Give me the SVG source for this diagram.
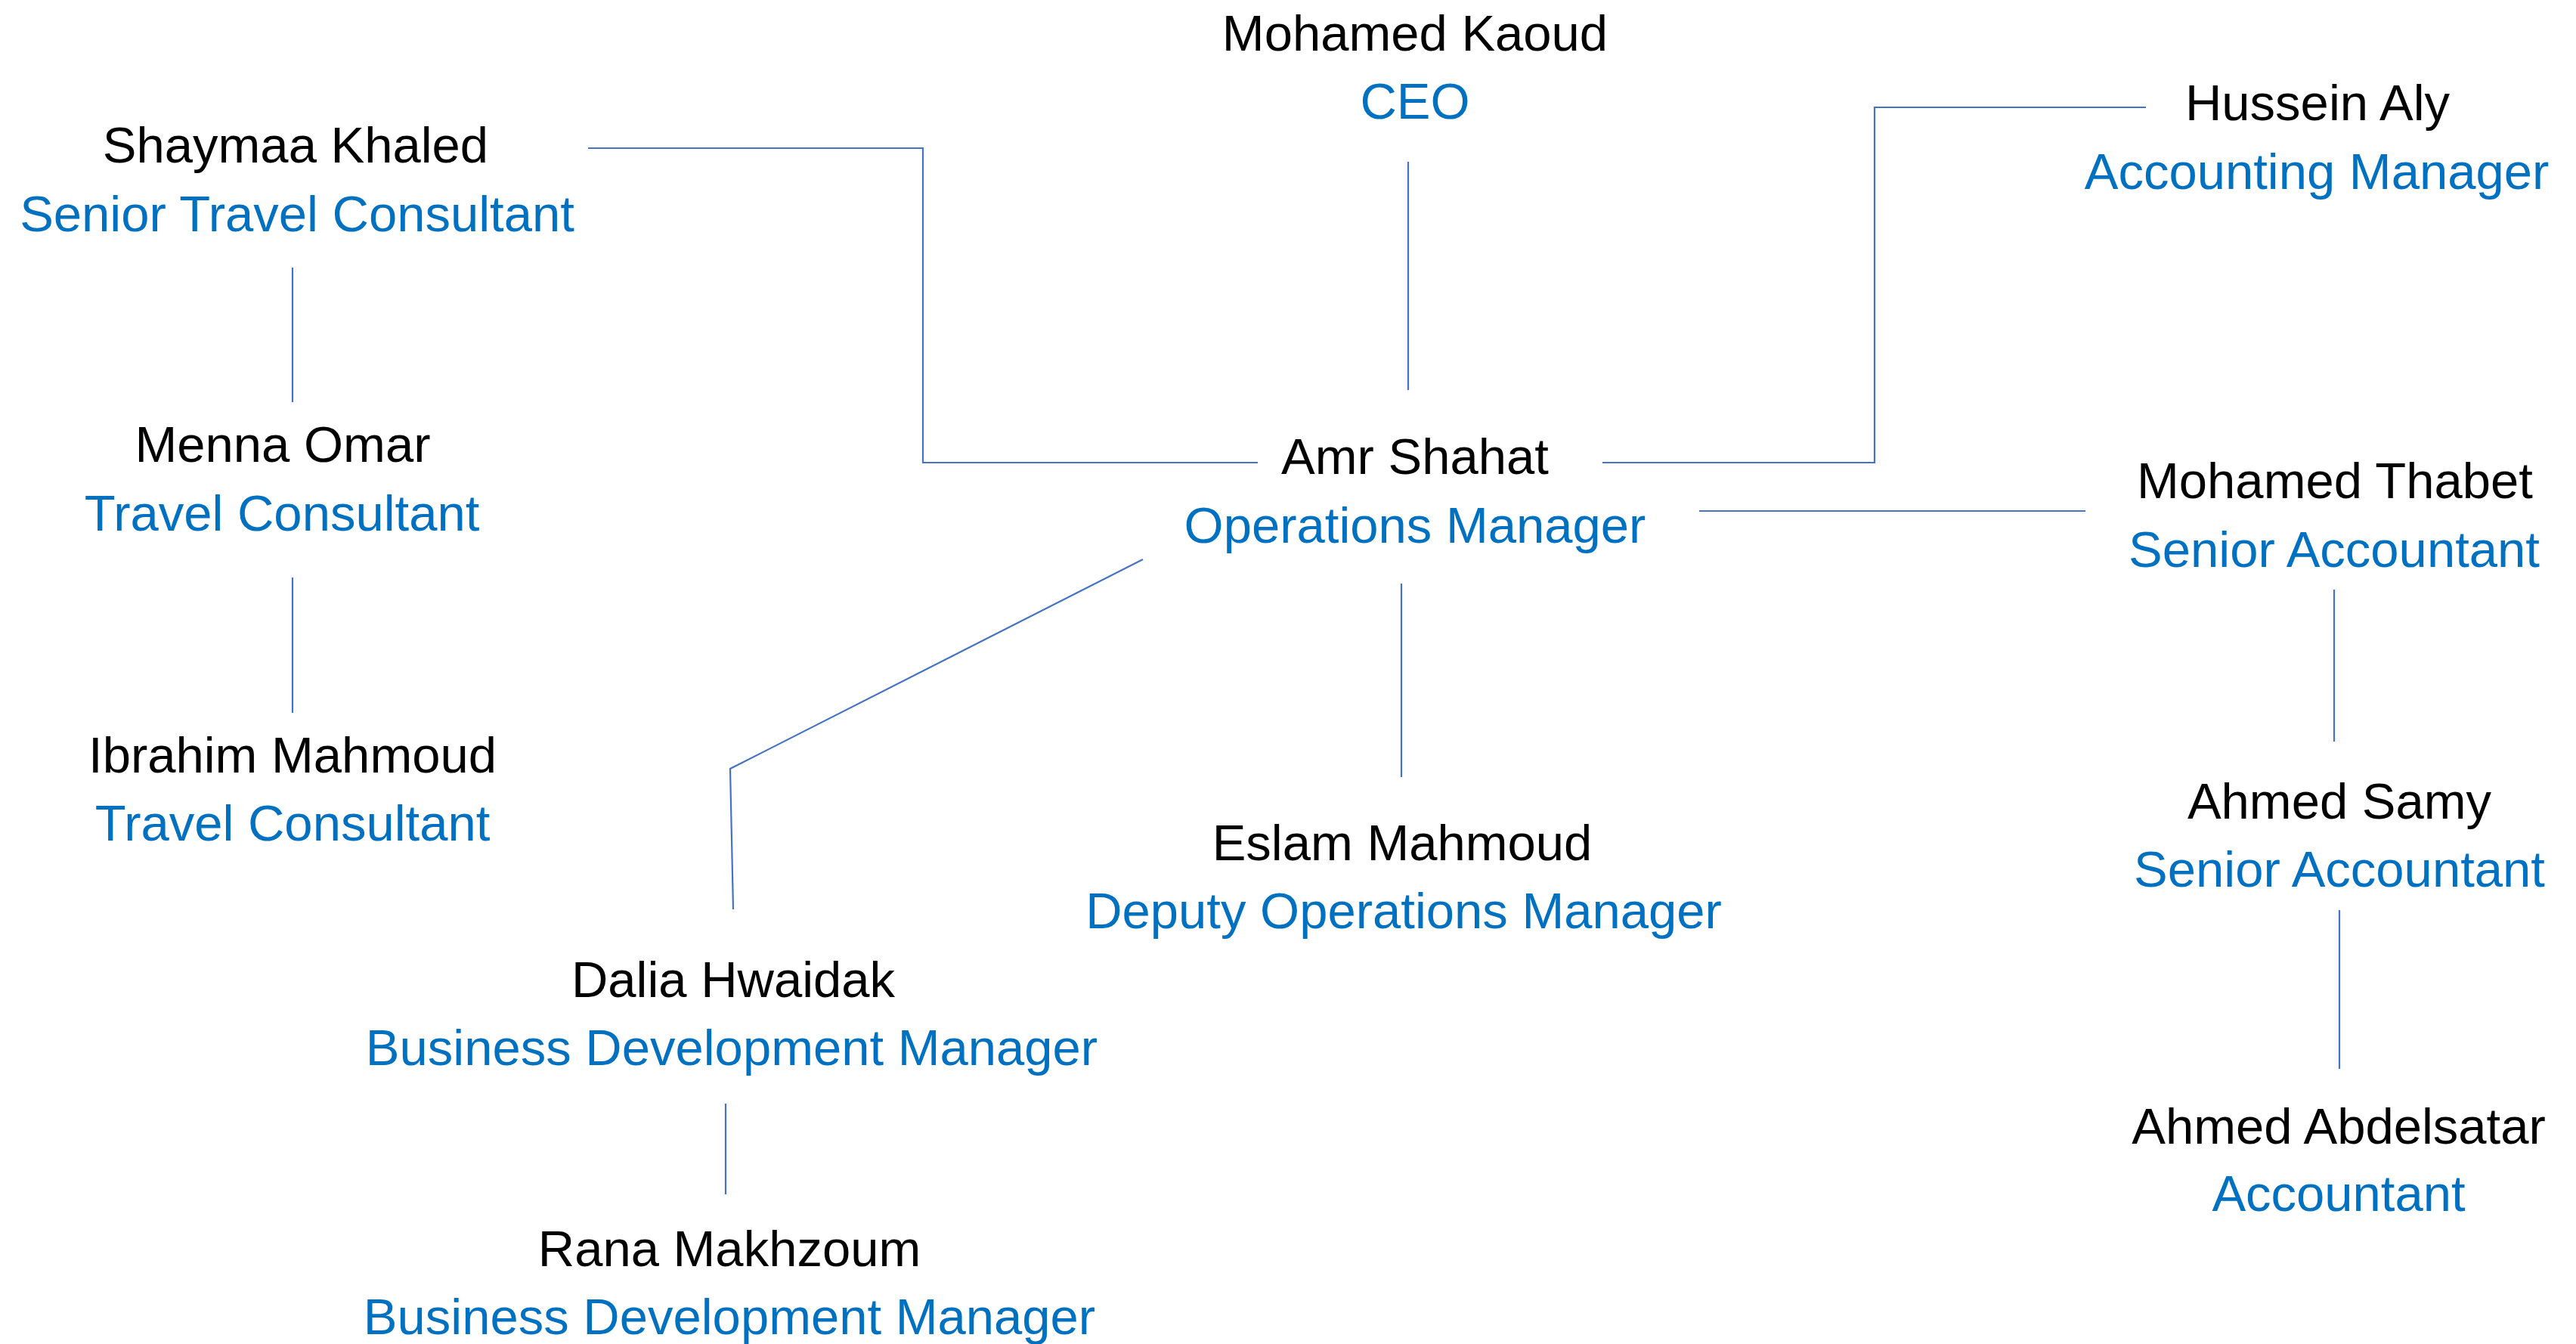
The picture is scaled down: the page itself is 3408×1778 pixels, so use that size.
<svg xmlns="http://www.w3.org/2000/svg" width="3408" height="1778" viewBox="0 0 3408 1778">
<style>
text{font-family:"Liberation Sans",Arial,sans-serif;font-size:67px;text-anchor:middle}
.n{fill:#000000}
.t{fill:#0070C0}
.c{fill:none;stroke:#4472C4;stroke-width:2.2}
</style>
<rect width="3408" height="1778" fill="#ffffff"/>
<g id="connectors">
<path class="c" d="M1863,214 V516"/>
<path class="c" d="M778,196 H1221 V612 H1664"/>
<path class="c" d="M2120,612 H2480 V142 H2839"/>
<path class="c" d="M2248,676 H2759"/>
<path class="c" d="M3088,780 V981"/>
<path class="c" d="M3095,1204 V1414"/>
<path class="c" d="M387,354 V532"/>
<path class="c" d="M387,764 V943"/>
<path class="c" d="M1512,740 L966,1017 L970,1203"/>
<path class="c" d="M960,1460 V1580"/>
<path class="c" d="M1854,772 V1028"/>
</g>
<g id="ceo"><text class="n" x="1872" y="67">Mohamed Kaoud</text><text class="t" x="1872" y="157">CEO</text></g>
<g id="ops"><text class="n" x="1872" y="627">Amr Shahat</text><text class="t" x="1872" y="718">Operations Manager</text></g>
<g id="hussein"><text class="n" x="3066" y="159">Hussein Aly</text><text class="t" x="3065" y="250">Accounting Manager</text></g>
<g id="thabet"><text class="n" x="3089" y="659">Mohamed Thabet</text><text class="t" x="3088" y="750">Senior Accountant</text></g>
<g id="samy"><text class="n" x="3095" y="1083">Ahmed Samy</text><text class="t" x="3095" y="1173">Senior Accountant</text></g>
<g id="abdelsatar"><text class="n" x="3094" y="1513">Ahmed Abdelsatar</text><text class="t" x="3094" y="1602">Accountant</text></g>
<g id="shaymaa"><text class="n" x="391" y="215">Shaymaa Khaled</text><text class="t" x="393" y="306">Senior Travel Consultant</text></g>
<g id="menna"><text class="n" x="374" y="611">Menna Omar</text><text class="t" x="373" y="702">Travel Consultant</text></g>
<g id="ibrahim"><text class="n" x="387" y="1022">Ibrahim Mahmoud</text><text class="t" x="387" y="1112">Travel Consultant</text></g>
<g id="eslam"><text class="n" x="1855" y="1138">Eslam Mahmoud</text><text class="t" x="1857" y="1228">Deputy Operations Manager</text></g>
<g id="dalia"><text class="n" x="970" y="1319">Dalia Hwaidak</text><text class="t" x="968" y="1409">Business Development Manager</text></g>
<g id="rana"><text class="n" x="965" y="1675">Rana Makhzoum</text><text class="t" x="965" y="1765">Business Development Manager</text></g>
</svg>
